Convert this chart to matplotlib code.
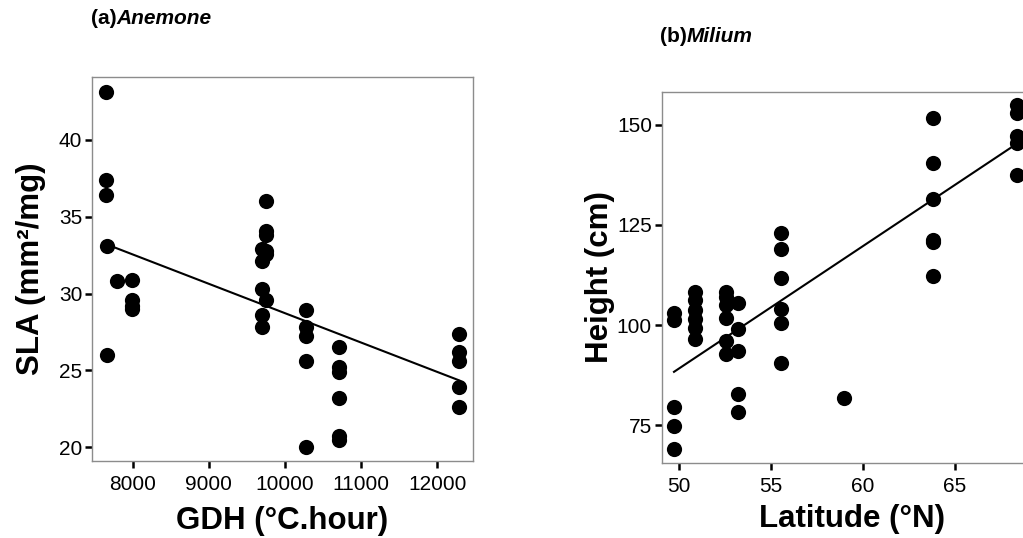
import numpy as np
import matplotlib
matplotlib.use('Agg')
import matplotlib.pyplot as plt

plt.rcParams['font.family'] = ['Liberation Sans', 'DejaVu Sans']

# (a) Anemone: SLA against growing degree hours
gdh = [7646, 7646, 7646, 7660, 7660, 7798, 7995, 7995, 7995, 7995,
       9751, 9751, 9751, 9694, 9751, 9751, 9694, 9694, 9751, 9694, 9694,
       10272, 10272, 10272, 10272, 10272,
       10709, 10709, 10709, 10709, 10709, 10709,
       12287, 12287, 12287, 12287, 12287]
sla = [43.1, 37.4, 36.4, 33.1, 26.0, 30.8, 30.9, 29.6, 29.2, 29.0,
       36.0, 34.1, 33.8, 32.9, 32.75, 32.6, 32.1, 30.3, 29.6, 28.6, 27.8,
       28.9, 27.8, 27.25, 25.6, 20.0,
       26.5, 25.2, 24.9, 23.2, 20.7, 20.5,
       27.35, 26.2, 25.6, 23.9, 22.6]
fit_a_x = [7660, 12287]
fit_a_y = [33.2, 24.35]

# (b) Milium: height against latitude
lat = [49.73] * 5 + [50.87] * 6 + [52.54] * 6 + [53.22] * 5 + [55.53] * 6 + [58.98] + [63.82] * 6 + [68.4] * 5
height = [103.1, 101.3, 79.6, 74.8, 69.0,
          108.3, 106.2, 103.8, 101.4, 99.2, 96.4,
          108.3, 107.1, 105.0, 101.7, 96.0, 92.8,
          105.6, 98.9, 93.6, 82.8, 78.3,
          122.9, 119.0, 111.8, 104.1, 100.4, 90.6,
          81.8,
          151.8, 140.6, 131.4, 121.3, 120.7, 112.3,
          155.0, 152.9, 147.1, 145.4, 137.5]
fit_b_x = [49.73, 68.4]
fit_b_y = [88.3, 145.4]

fig = plt.figure(figsize=(10.23, 5.38), dpi=100)
ax1 = fig.add_axes([0.0899, 0.1431, 0.3724, 0.7138])
ax2 = fig.add_axes([0.6468, 0.1400, 0.3724, 0.6896])


def style(ax):
    for s in ax.spines.values():
        s.set_color('#8c8c8c')
        s.set_linewidth(1.0)
    ax.tick_params(direction='out', length=5, width=1.8, color='black',
                   labelsize=15, pad=2)
    ax.tick_params(axis='x', pad=5)


ax1.scatter(gdh, sla, s=120, color='black', zorder=3, linewidths=0)
ax1.plot(fit_a_x, fit_a_y, color='black', lw=1.5)
ax1.set_xlim(7466, 12468)
ax1.set_ylim(19.1, 44.1)
ax1.set_xticks([8000, 9000, 10000, 11000, 12000])
ax1.set_yticks([20, 25, 30, 35, 40])
ax1.set_xlabel('GDH (°C.hour)', fontsize=22.5, fontweight='bold', labelpad=9)
ax1.set_ylabel('SLA (mm²/mg)', fontsize=22.5, fontweight='bold', labelpad=9)
style(ax1)

ax2.scatter(lat, height, s=120, color='black', zorder=3, linewidths=0, clip_on=False)
ax2.plot(fit_b_x, fit_b_y, color='black', lw=1.5)
ax2.set_xlim(49.06, 69.77)
ax2.set_ylim(65.6, 158.3)
ax2.set_xticks([50, 55, 60, 65])
ax2.set_yticks([75, 100, 125, 150])
ax2.set_xlabel('Latitude (°N)', fontsize=22.5, fontweight='bold', labelpad=6)
ax2.set_ylabel('Height (cm)', fontsize=22.5, fontweight='bold', labelpad=1)
style(ax2)

# panel titles: bold letter, bold italic genus
t1 = fig.text(0.089, 1 - 18 / 538, '(a)', fontsize=15, fontweight='bold', va='center')
ax1.annotate('Anemone', xy=(1, 0.5), xycoords=t1, xytext=(-0.3, 0),
             textcoords='offset points', va='center', ha='left',
             fontsize=15, fontweight='bold', fontstyle='italic')
t2 = fig.text(0.645, 1 - 37 / 538, '(b)', fontsize=15, fontweight='bold', va='center')
ax2.annotate('Milium', xy=(1, 0.5), xycoords=t2, xytext=(-0.3, 0),
             textcoords='offset points', va='center', ha='left',
             fontsize=15, fontweight='bold', fontstyle='italic')

fig.savefig('out.png', dpi=100)
